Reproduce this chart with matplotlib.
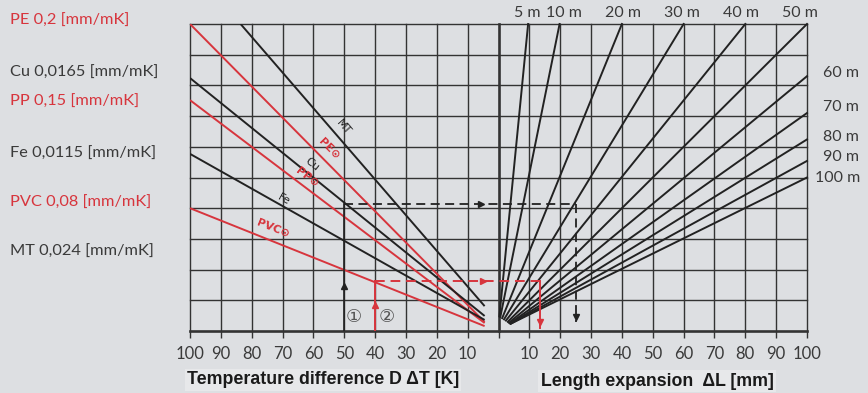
import math

import matplotlib
matplotlib.use("Agg")
import matplotlib.pyplot as plt

# --- values ---
# left panel: x = temperature difference (K), y = grid rows (0..10)
materials = ["PE", "MT", "Cu", "PP", "Fe", "PVC"]
mat_colors = ["red", "black", "black", "red", "black", "red"]
mat_dt_start = [100.0, 83.6, 100.0, 100.0, 100.0, 100.0]
mat_y_start = [10.0, 10.0, 8.24, 7.52, 5.77, 4.0]
mat_dt_end = [4.5, 4.5, 4.5, 4.5, 4.5, 4.5]
mat_y_end = [0.29, 0.81, 0.49, 0.26, 0.36, 0.16]

# line labels: position (dT, y)
mat_label_text = ["PE\u2299", "MT", "Cu", "PP\u2299", "Fe", "PVC\u2299"]
mat_label_dt = [55.0, 50.2, 60.4, 62.2, 69.7, 73.0]
mat_label_y = [5.95, 6.64, 5.42, 5.0, 4.27, 3.35]

legend_text = ["PE 0,2 [mm/mK]", "Cu 0,0165 [mm/mK]", "PP 0,15 [mm/mK]",
               "Fe 0,0115 [mm/mK]", "PVC 0,08 [mm/mK]", "MT 0,024 [mm/mK]"]
legend_colors = ["red", "dark", "red", "dark", "red", "dark"]
legend_y_px = [21, 73, 102, 154, 203, 252]

# right panel: pipe lengths, fan lines from near origin
pipe_len = ["5 m", "10 m", "20 m", "30 m", "40 m", "50 m",
            "60 m", "70 m", "80 m", "90 m", "100 m"]
fan_x_start = [0.3, 0.6, 1.2, 1.8, 2.4, 3.0, 3.4, 3.7, 3.9, 4.0, 4.0]
fan_y_start = [0.48, 0.46, 0.42, 0.38, 0.34, 0.30, 0.27, 0.25, 0.24, 0.24, 0.24]
fan_x_end = [9.6, 19.8, 40.0, 60.0, 80.0, 100.0, 100.0, 100.0, 100.0, 100.0, 100.0]
fan_y_end = [10.0, 10.0, 10.0, 10.0, 10.0, 10.0, 8.3, 7.1, 6.24, 5.54, 5.0]
# label positions in pixels (x centre for top row, x left for right column)
len_label_x_px = [527, 564, 623, 682, 741, 800, 823, 823, 823, 823, 815]
len_label_y_px = [13, 13, 13, 13, 13, 13, 73, 107, 137, 157, 178]

# worked examples
ex1_dt = 50      # example 1 (Cu)
ex1_y = 4.14
ex1_dl = 25.0
ex2_dt = 40      # example 2 (PVC)
ex2_y = 1.63
ex2_dl = 13.3

ticks = list(range(-100, 101, 10))
rows = list(range(0, 11))

RED = "#d7353d"
BLK = "#222222"
DARK = "#3a3a3a"
BG = "#dddfe2"

fig = plt.figure(figsize=(8.68, 3.93), dpi=100, facecolor=BG)
W, H = 868, 393
ax = fig.add_axes([190 / W, (H - 331) / H, (807 - 190) / W, (331 - 24) / H])
ax.set_facecolor(BG)
ax.set_xlim(-100, 100)
ax.set_ylim(0, 10)

# grid
for t in ticks:
    lw = 1.9 if t == 0 else 1.0
    ax.plot([t, t], [0, 10], color="#333333", lw=lw, clip_on=False, zorder=1)
for r in rows:
    lw = 1.9 if r == 0 else 1.0
    ax.plot([-100, 100], [r, r], color="#333333", lw=lw, clip_on=False, zorder=1)
for s in ax.spines.values():
    s.set_visible(False)

ax.set_xticks(ticks)
ax.set_xticklabels(["" if t == 0 else str(abs(t)) for t in ticks])
ax.set_yticks([])
ax.tick_params(axis="x", direction="out", length=5, width=1.0, color="#333333",
               labelsize=12, labelcolor=DARK, pad=6)
for lab in ax.get_xticklabels():
    lab.set_family("Lato")

# material lines (left panel, x = -dT)
for i, m in enumerate(materials):
    c = RED if mat_colors[i] == "red" else BLK
    ax.plot([-mat_dt_start[i], -mat_dt_end[i]], [mat_y_start[i], mat_y_end[i]],
            color=c, lw=1.4, zorder=3, solid_capstyle="butt")

fig.canvas.draw()
for i, txt in enumerate(mat_label_text):
    c = RED if mat_colors[i] == "red" else BLK
    p1 = ax.transData.transform((-mat_dt_start[i], mat_y_start[i]))
    p2 = ax.transData.transform((-mat_dt_end[i], mat_y_end[i]))
    ang = math.degrees(math.atan2(p2[1] - p1[1], p2[0] - p1[0]))
    ax.text(-mat_label_dt[i], mat_label_y[i], txt, color=c, fontsize=8,
            rotation=ang, rotation_mode="anchor", ha="center", va="center",
            family="DejaVu Sans Condensed" if c == BLK else "DejaVu Sans",
            fontweight="bold" if c == RED else "normal", zorder=4)

# fan lines (right panel)
for i in range(len(pipe_len)):
    ax.plot([fan_x_start[i], fan_x_end[i]], [fan_y_start[i], fan_y_end[i]],
            color=BLK, lw=1.4, zorder=3, clip_on=False)

# length labels
for i, lab in enumerate(pipe_len):
    ha = "center" if fan_y_end[i] >= 10 else "left"
    fig.text(len_label_x_px[i] / W, 1 - len_label_y_px[i] / H, lab, ha=ha,
             va="center", fontsize=11.5, color=DARK, family="Lato")

# example 1: black
ax.plot([-ex1_dt, -ex1_dt], [0, ex1_y], color=BLK, lw=1.2, zorder=5)
ax.plot([-ex1_dt], [1.45], marker="^", color=BLK, ms=5, zorder=6)
ax.plot([-ex1_dt, ex1_dl], [ex1_y, ex1_y], color=BLK, lw=1.3, ls=(0, (5, 3)), zorder=5)
ax.plot([-5.8], [ex1_y], marker=">", color=BLK, ms=5, zorder=6)
ax.plot([ex1_dl, ex1_dl], [ex1_y, 0.3], color=BLK, lw=1.3, ls=(0, (5, 3)), zorder=5)
ax.plot([ex1_dl], [0.45], marker="v", color=BLK, ms=5, zorder=6)

# example 2: red
ax.plot([-ex2_dt, -ex2_dt], [0, ex2_y], color=RED, lw=1.4, zorder=5)
ax.plot([-ex2_dt], [0.85], marker="^", color=RED, ms=5, zorder=6)
ax.plot([-ex2_dt, ex2_dl], [ex2_y, ex2_y], color=RED, lw=1.4, ls=(0, (5, 3)), zorder=5)
ax.plot([-5.0], [ex2_y], marker=">", color=RED, ms=5, zorder=6)
ax.plot([ex2_dl, ex2_dl], [ex2_y, 0.1], color=RED, lw=1.4, zorder=5)
ax.plot([ex2_dl], [0.3], marker="v", color=RED, ms=5, zorder=6)

ax.text(-47, 0.47, "\u2460", ha="center", va="center", fontsize=13, color="#555555",
        family=["DejaVu Sans", "Noto Sans CJK JP"], zorder=6)
ax.text(-36.3, 0.47, "\u2461", ha="center", va="center", fontsize=13, color="#555555",
        family=["DejaVu Sans", "Noto Sans CJK JP"], zorder=6)

# material legend on the left
for i, txt in enumerate(legend_text):
    c = RED if legend_colors[i] == "red" else DARK
    fig.text(10 / W, 1 - legend_y_px[i] / H, txt, ha="left", va="center",
             fontsize=11.8, color=c, family="Lato")

# axis titles
fig.text(323 / W, 1 - 380 / H, "Temperature difference D \u0394T [K]", ha="center",
         va="center", fontsize=12.8, fontweight="bold", color="#1a1a1a",
         family="Liberation Sans",
         bbox=dict(boxstyle="square,pad=0.12", fc="#e7e8ea", ec="none"))
fig.text(657 / W, 1 - 381 / H, "Length expansion  \u0394L [mm]", ha="center",
         va="center", fontsize=12.8, fontweight="bold", color="#1a1a1a",
         family="Liberation Sans",
         bbox=dict(boxstyle="square,pad=0.12", fc="#e7e8ea", ec="none"))

fig.savefig("out.png", dpi=100, facecolor=BG)
